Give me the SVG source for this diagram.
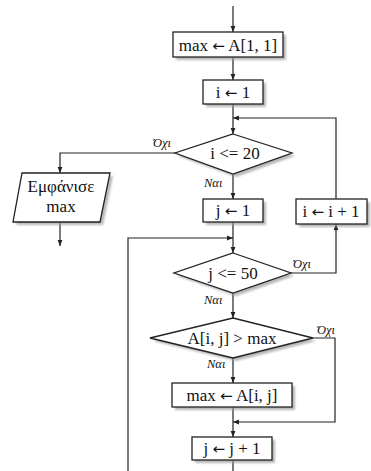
<svg xmlns="http://www.w3.org/2000/svg" width="371" height="471" viewBox="0 0 371 471">
<defs>
<style>
.sh{fill:#9a9a9a;stroke:none;opacity:0.7}
.nd{fill:#fff;stroke:#222;stroke-width:1.3}
.t{font-family:"Liberation Serif","DejaVu Serif",serif;font-size:17px;fill:#111;text-anchor:middle}
.a{font-family:"DejaVu Sans",sans-serif;font-size:15px}
.lb{font-family:"Liberation Serif","DejaVu Serif",serif;font-size:12.5px;font-style:italic;fill:#111}
.c{fill:none;stroke:#222;stroke-width:1.2}
</style>
<marker id="ar" viewBox="0 0 10 10" refX="10" refY="5" markerWidth="6" markerHeight="6" orient="auto" markerUnits="userSpaceOnUse">
<path d="M0,1 L10,5 L0,9 z" fill="#222"/>
</marker>
<filter id="bl" x="-10%" y="-10%" width="130%" height="150%"><feGaussianBlur stdDeviation="0.8"/></filter>
</defs>
<g id="connectors">
<path class="c" d="M233,6 V32" marker-end="url(#ar)"/>
<path class="c" d="M233,57 V80" marker-end="url(#ar)"/>
<path class="c" d="M233,104 V134" marker-end="url(#ar)"/>
<path class="c" d="M336,199 V118 H233" marker-end="url(#ar)"/>
<path class="c" d="M175,153 H60 V173" marker-end="url(#ar)"/>
<path class="c" d="M60,222 V246" marker-end="url(#ar)"/>
<path class="c" d="M233,174 V199" marker-end="url(#ar)"/>
<path class="c" d="M233,222 V253" marker-end="url(#ar)"/>
<path class="c" d="M128,471 V238 H233" marker-end="url(#ar)"/>
<path class="c" d="M291,273 H336 V224" marker-end="url(#ar)"/>
<path class="c" d="M233,293 V318" marker-end="url(#ar)"/>
<path class="c" d="M313,338 H335 V422 H233" marker-end="url(#ar)"/>
<path class="c" d="M233,358 V383" marker-end="url(#ar)"/>
<path class="c" d="M233,407 V437" marker-end="url(#ar)"/>
<path class="c" d="M233,460 V471"/>
</g>
<g id="labels">
<text class="lb" x="153" y="147">Όχι</text>
<text class="lb" x="204" y="187">Ναι</text>
<text class="lb" x="293" y="268">Όχι</text>
<text class="lb" x="204" y="304">Ναι</text>
<text class="lb" x="317" y="334">Όχι</text>
<text class="lb" x="207" y="368">Ναι</text>
</g>
<g id="n1">
<rect class="sh" x="176" y="35" width="110" height="25" filter="url(#bl)"/>
<rect class="nd" x="173" y="32" width="110" height="25"/>
<text class="t" x="228" y="50.5">max <tspan class="a">←</tspan> A[1, 1]</text>
</g>
<g id="n2">
<rect class="sh" x="206" y="83" width="60" height="24" filter="url(#bl)"/>
<rect class="nd" x="203" y="80" width="60" height="24"/>
<text class="t" x="233" y="98">i <tspan class="a">←</tspan> 1</text>
</g>
<g id="n3">
<polygon class="sh" points="236,137 295,156 236,177 178,156" filter="url(#bl)"/>
<polygon class="nd" points="233,134 292,153 233,174 175,153"/>
<text class="t" x="235" y="159">i &lt;= 20</text>
</g>
<g id="n4">
<polygon class="sh" points="25,176 113,176 103,225 16,225" filter="url(#bl)"/>
<polygon class="nd" points="22,173 110,173 100,222 13,222"/>
<text class="t" x="61" y="192">Εμφάνισε</text>
<text class="t" x="61" y="212">max</text>
</g>
<g id="n5">
<rect class="sh" x="206" y="202" width="60" height="23" filter="url(#bl)"/>
<rect class="nd" x="203" y="199" width="60" height="23"/>
<text class="t" x="233" y="216">j <tspan class="a">←</tspan> 1</text>
</g>
<g id="n6">
<rect class="sh" x="299" y="202" width="71" height="25" filter="url(#bl)"/>
<rect class="nd" x="296" y="199" width="71" height="25"/>
<text class="t" x="331" y="217">i <tspan class="a">←</tspan> i + 1</text>
</g>
<g id="n7">
<polygon class="sh" points="236,256 294,276 236,296 177,276" filter="url(#bl)"/>
<polygon class="nd" points="233,253 291,273 233,293 174,273"/>
<text class="t" x="233" y="279">j &lt;= 50</text>
</g>
<g id="n8">
<polygon class="sh" points="236,321 316,341 236,361 153,341" filter="url(#bl)"/>
<polygon class="nd" points="233,318 313,338 233,358 150,338"/>
<text class="t" x="232" y="344">A[i, j] &gt; max</text>
</g>
<g id="n9">
<rect class="sh" x="175" y="386" width="120" height="24" filter="url(#bl)"/>
<rect class="nd" x="172" y="383" width="120" height="24"/>
<text class="t" x="232" y="401">max <tspan class="a">←</tspan> A[i, j]</text>
</g>
<g id="n10">
<rect class="sh" x="195" y="440" width="80" height="23" filter="url(#bl)"/>
<rect class="nd" x="192" y="437" width="80" height="23"/>
<text class="t" x="232" y="454">j <tspan class="a">←</tspan> j + 1</text>
</g>
</svg>
